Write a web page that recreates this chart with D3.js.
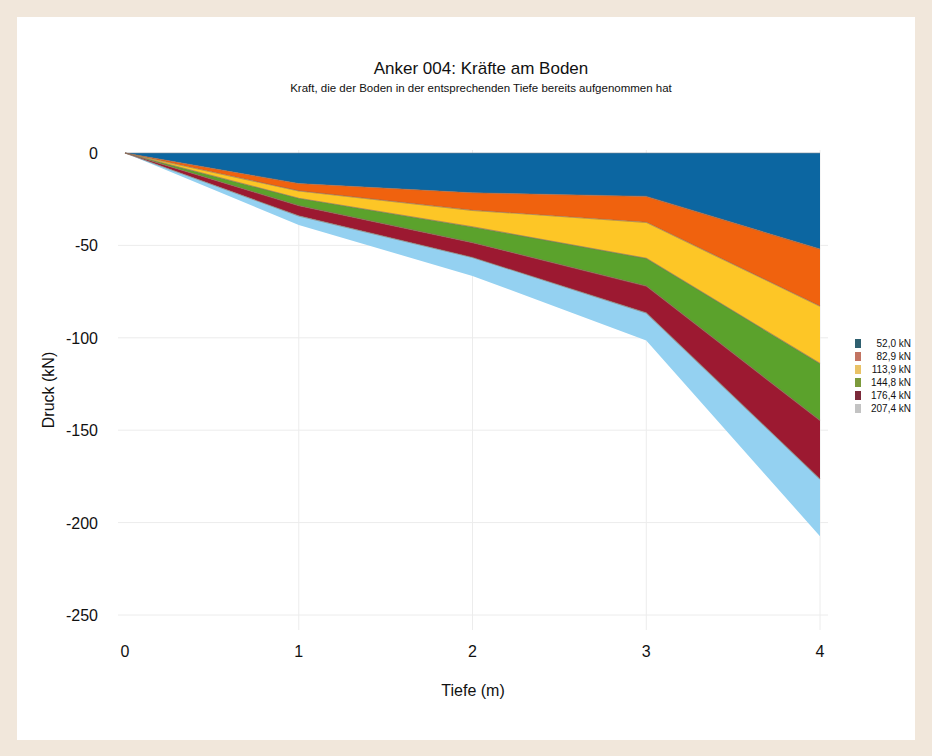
<!DOCTYPE html>
<html><head><meta charset="utf-8">
<script src="https://cdn.jsdelivr.net/npm/d3@7/dist/d3.min.js"></script>
<style>body{margin:0;background:#f1e7db;} svg{display:block;font-family:"Liberation Sans",Arial,sans-serif;}</style>
</head><body><svg id="c" width="932" height="756"></svg>
<script>
const depths = [0, 1, 2, 3, 4];
const s52 = [0, -16.5, -21.5, -23.5, -52.0];
const s83 = [0, -20.5, -31.0, -37.5, -82.9];
const s114 = [0, -24.5, -40.0, -57.0, -113.9];
const s145 = [0, -28.5, -48.5, -72.0, -144.8];
const s176 = [0, -34.0, -56.5, -86.5, -176.4];
const s207 = [0, -39.0, -66.5, -101.5, -207.4];
const seriesNames = ["52,0 kN", "82,9 kN", "113,9 kN", "144,8 kN", "176,4 kN", "207,4 kN"];
const seriesValues = [s52, s83, s114, s145, s176, s207];
const fillColors = ["#0c66a1", "#f0620e", "#fdc626", "#5ba22c", "#9c1931", "#94d1f1"];
const legendColors = ["#2f6070", "#c27462", "#e9c266", "#7c9a3c", "#7b2a3a", "#c3c3c3"];
const xTicks = [0, 1, 2, 3, 4];
const yTicks = [0, -50, -100, -150, -200, -250];

const svg = d3.select("#c");
svg.append("rect").attr("x", 17).attr("y", 17).attr("width", 898).attr("height", 723).attr("fill", "#fff");

const x = d3.scaleLinear().domain([0, 4]).range([125, 820]);
const y = d3.scaleLinear().domain([-250, 0]).range([615, 153]);

// grid
const g = svg.append("g");
g.selectAll(".vg").data(xTicks.slice(1)).enter().append("line")
  .attr("x1", d => x(d)).attr("x2", d => x(d)).attr("y1", 150).attr("y2", 630)
  .attr("stroke", "#ececec").attr("stroke-width", 1);
g.selectAll(".hg").data(yTicks.slice(1)).enter().append("line")
  .attr("x1", 118).attr("x2", 828).attr("y1", d => y(d)).attr("y2", d => y(d))
  .attr("stroke", "#ececec").attr("stroke-width", 1);

// areas
const area = d3.area().x((d, i) => x(depths[i])).y0(d => y(d[0])).y1(d => y(d[1]));
seriesValues.forEach((vals, k) => {
  const prev = k === 0 ? depths.map(() => 0) : seriesValues[k - 1];
  const pts = vals.map((v, i) => [prev[i], v]);
  svg.append("path").datum(pts).attr("d", area)
    .attr("fill", fillColors[k]).attr("stroke", "none");
  svg.append("path").datum(pts)
    .attr("d", d3.line().x((d, i) => x(depths[i])).y(d => y(d[0])))
    .attr("fill", "none").attr("stroke", k === 0 ? "#7d8a96" : "#8a6a5a").attr("stroke-opacity", 0.6).attr("stroke-width", 1.2);
});

// axes labels
svg.append("g").selectAll("text").data(xTicks).enter().append("text")
  .attr("x", d => x(d)).attr("y", 657).attr("text-anchor", "middle")
  .attr("font-size", 16).attr("fill", "#111").text(d => d);
svg.append("g").selectAll("text").data(yTicks).enter().append("text")
  .attr("x", 98).attr("y", d => y(d) + 6).attr("text-anchor", "end")
  .attr("font-size", 16).attr("fill", "#111").text(d => d);

svg.append("text").attr("x", 473).attr("y", 696).attr("text-anchor", "middle")
  .attr("font-size", 16).attr("fill", "#111").text("Tiefe (m)");
svg.append("text").attr("transform", "translate(54,390) rotate(-90)").attr("text-anchor", "middle")
  .attr("font-size", 16).attr("fill", "#111").text("Druck (kN)");

svg.append("text").attr("x", 481).attr("y", 74).attr("text-anchor", "middle")
  .attr("font-size", 17).attr("fill", "#111").text("Anker 004: Kräfte am Boden");
svg.append("text").attr("x", 481).attr("y", 92).attr("text-anchor", "middle")
  .attr("font-size", 11.5).attr("fill", "#111").text("Kraft, die der Boden in der entsprechenden Tiefe bereits aufgenommen hat");

// legend
const lg = svg.append("g");
seriesNames.forEach((n, k) => {
  const yy = 343 + k * 13;
  lg.append("rect").attr("x", 855).attr("y", yy - 4).attr("width", 6).attr("height", 9).attr("fill", legendColors[k]);
  lg.append("text").attr("x", 911).attr("y", yy + 4).attr("text-anchor", "end")
    .attr("font-size", 10).attr("fill", "#111").text(n);
});
</script></body></html>
